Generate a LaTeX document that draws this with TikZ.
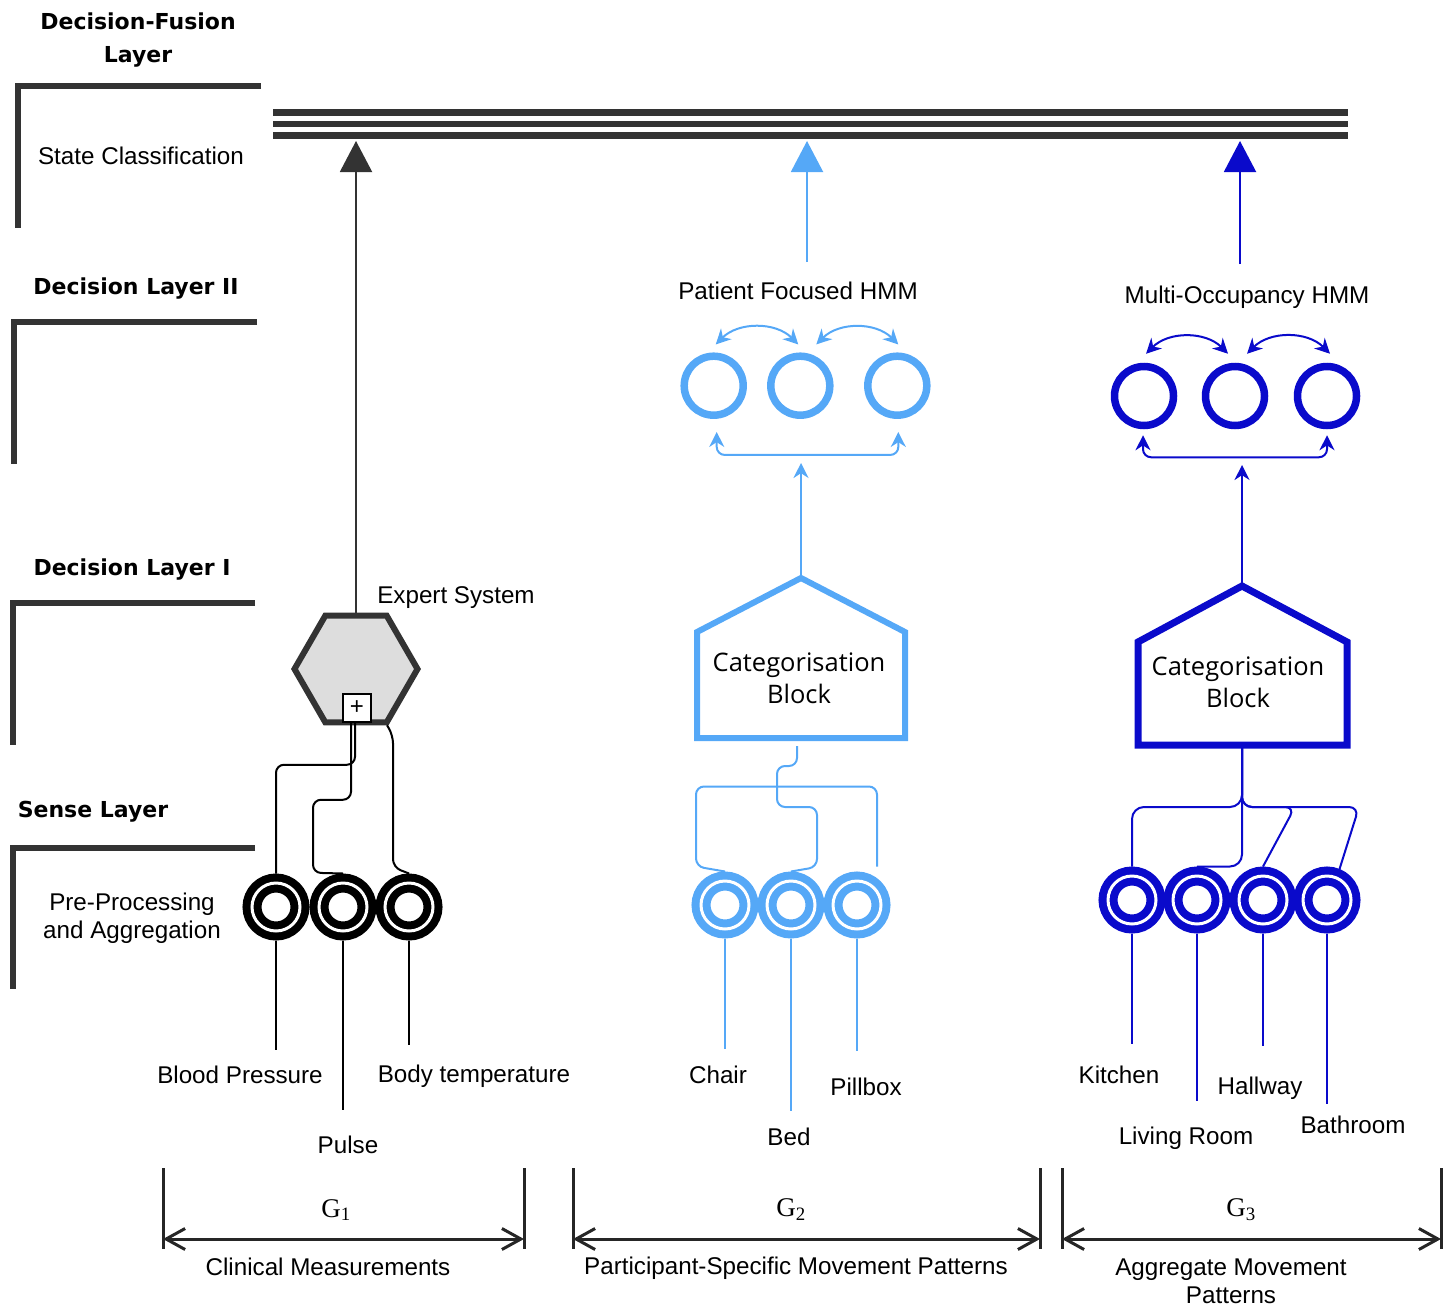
\documentclass[tikz,border=0pt]{standalone}
\usepackage{fontspec}
\setmainfont{Liberation Sans}
\newfontfamily\headfont{DejaVu Sans}
\newfontfamily\blockfont{Open Sans}
\newfontfamily\gfont{Liberation Serif}
\usetikzlibrary{arrows.meta,calc,shapes.geometric}
\definecolor{darkline}{HTML}{333333}
\definecolor{hexfill}{HTML}{DDDDDD}
\definecolor{lightblu}{HTML}{55A8F7}
\definecolor{darkblu}{HTML}{0A0ACB}
\tikzset{>=Stealth,
  lbl/.style={font=\fontsize{24.2}{28}\selectfont, align=center, inner sep=0pt},
  layerhead/.style={font=\headfont\bfseries\fontsize{22}{33}\selectfont, align=center, inner sep=0pt},
  blocktext/.style={font=\blockfont\fontsize{25.5}{32}\selectfont, align=center, inner sep=0pt},
  layerbracket/.style={darkline, line width=6pt},
  fusearr/.style={#1, line width=2pt, -{Triangle[width=32pt,length=31pt]}},
  uparr/.style={#1, line width=2pt, -{Stealth[length=15pt,width=15pt]}},
  hmmarr/.style={#1, line width=2pt, {Stealth[length=15pt,width=15pt]}-{Stealth[length=15pt,width=15pt]}},
  sensor/.style={circle, draw=#1, line width=8pt, double=white, double distance=3pt,
    minimum size=48pt, inner sep=0pt, outer sep=9.5pt},
  hmmstate/.style={circle, draw=#1, line width=7.5pt, minimum size=59pt, inner sep=0pt, outer sep=3.75pt},
  wire/.style={#1, line width=2pt},
  grpbar/.style={black!85, line width=3pt},
  grparr/.style={black!85, line width=3pt, {Straight Barb[length=19pt,width=21pt]}-{Straight Barb[length=19pt,width=21pt]}}
}
\begin{document}
\begin{tikzpicture}[x=1pt,y=-1pt]
\useasboundingbox (0,0) rectangle (1455,1306);

% layers
\node[layerhead] (hfusion) at (138,40) {Decision-Fusion\\Layer};
\node[layerhead] (hdec2) at (136,289) {Decision Layer II};
\node[layerhead] (hdec1) at (132,570) {Decision Layer I};
\node[layerhead] (hsense) at (93,812) {Sense Layer};
\draw[layerbracket] (261,86) -- (18,86) -- (18,228);
\draw[layerbracket] (257,322) -- (14,322) -- (14,464);
\draw[layerbracket] (255,603) -- (13,603) -- (13,745);
\draw[layerbracket] (255,848) -- (13,848) -- (13,989);
\node[lbl] (state) at (141,156) {State Classification};
\node[lbl] (preproc) at (132,918) {Pre-Processing\\and Aggregation};

\foreach \yb in {112.7,124,135.3}
  \draw[darkline, line width=6.5pt] (273,\yb) -- (1348,\yb);
\coordinate (bartip) at (0,141);

% G1
\node[regular polygon, regular polygon sides=6, minimum size=123pt, inner sep=0pt,
  draw=darkline, fill=hexfill, line width=6pt] (hex) at (356,669) {};
\node[draw=black, fill=white, line width=1.5pt, minimum size=28pt, inner sep=0pt,
  font=\fontsize{24}{24}\selectfont] (plus) at (357,708) {+};
\node[lbl] (expert) at (456,598) {Expert System};
\draw[fusearr=darkline] (hex.north) -- (hex.north |- bartip);
\node[sensor=black] (r11) at (276,907) {};
\node[sensor=black] (r12) at (343,907) {};
\node[sensor=black] (r13) at (409,907) {};
\draw[wire=black, rounded corners=8] ($(plus.south)+(-2,0)$) -- ++(0,42) -| (r11.north);
\draw[wire=black, rounded corners=8] ($(plus.south)+(-6,0)$) -- ++(0,77) -- ++(-38,0) -- ++(0,73) -- (r12.north);
\draw[wire=black, rounded corners=8] ($(hex.south)+(31,0)$) -- ++(6,10) -- ++(0,132) -- (r13.north);
\draw[wire=black] (r11.south) -- ++(0,109);
\draw[wire=black] (r12.south) -- ++(0,169);
\draw[wire=black] (r13.south) -- ++(0,104);
\node[lbl] (bp) at (240,1075) {Blood Pressure};
\node[lbl] (pulse) at (348,1145) {Pulse};
\node[lbl] (btemp) at (474,1076) {Body temperature};

% G2
\node[lbl] (lab2hmm) at (798,291) {Patient Focused HMM};
\coordinate (up2) at (807,262);
\draw[fusearr=lightblu] (up2) -- (up2 |- bartip);
\node[hmmstate=lightblu] (h21) at (713.7,385.7) {};
\node[hmmstate=lightblu] (h22) at (800.3,385.7) {};
\node[hmmstate=lightblu] (h23) at (897.3,385.7) {};
\draw[hmmarr=lightblu] ($(h21.north)+(2,-8)$) to[bend left=45] ($(h22.north)+(-2,-8)$);
\draw[hmmarr=lightblu] ($(h22.north)+(16,-8)$) to[bend left=45] ($(h23.north)+(1,-8)$);
\draw[hmmarr=lightblu, rounded corners=8] ($(h21.south)+(3,13)$) -- ++(0,23) -| ($(h23.south)+(1,13)$);
\draw[lightblu, line width=6pt] (697,632) -- (801,578) -- (905,632) -- (905,738) -- (697,738) -- cycle;
\coordinate (apex2) at (801,578);
\coordinate (base2) at (801,738);
\node[blocktext] (cat2) at (799,678) {Categorisation\\Block};
\draw[uparr=lightblu] (apex2) -- ++(0,-115);
\node[sensor=lightblu] (r21) at (725,905) {};
\node[sensor=lightblu] (r22) at (791,905) {};
\node[sensor=lightblu] (r23) at (857,905) {};
\draw[wire=lightblu, rounded corners=8] ($(base2)+(-4,8)$) -- ++(0,20) -- ++(-20,0) -- ++(0,41) -- ++(40,0) -- ++(0,60) -- (r22.north);
\draw[wire=lightblu, rounded corners=8] (r21.north) -- ++(-29,-5) -- ++(0,-80) -- ++(181,0) -- ++(0,80);
\draw[wire=lightblu] (r21.south) -- ++(0,110);
\draw[wire=lightblu] (r22.south) -- ++(0,172);
\draw[wire=lightblu] (r23.south) -- ++(0,112);
\node[lbl] (chair) at (718,1075) {Chair};
\node[lbl] (bed) at (789,1137) {Bed};
\node[lbl] (pillbox) at (866,1087) {Pillbox};

% G3
\node[lbl] (lab3hmm) at (1247,297) {Multi-Occupancy HMM};
\coordinate (up3) at (1240,264);
\draw[fusearr=darkblu] (up3) -- (up3 |- bartip);
\node[hmmstate=darkblu] (h31) at (1144,396) {};
\node[hmmstate=darkblu] (h32) at (1235,396) {};
\node[hmmstate=darkblu] (h33) at (1327,396) {};
\draw[hmmarr=darkblu] ($(h31.north)+(2,-9)$) to[bend left=45] ($(h32.north)+(-7,-9)$);
\draw[hmmarr=darkblu] ($(h32.north)+(12,-9)$) to[bend left=45] ($(h33.north)+(3,-9)$);
\draw[hmmarr=darkblu, rounded corners=8] ($(h31.south)+(-1,6)$) -- ++(0,22) -| ($(h33.south)+(0,6)$);
\draw[darkblu, line width=7pt] (1138,642) -- (1242,586) -- (1347,642) -- (1347,745) -- (1138,745) -- cycle;
\coordinate (apex3) at (1242,586);
\coordinate (base3) at (1242,745);
\node[blocktext] (cat3) at (1238,682) {Categorisation\\Block};
\draw[uparr=darkblu] (apex3) -- ++(0,-121);
\node[sensor=darkblu] (r31) at (1132,900) {};
\node[sensor=darkblu] (r32) at (1197,900) {};
\node[sensor=darkblu] (r33) at (1263,900) {};
\node[sensor=darkblu] (r34) at (1327,900) {};
\draw[wire=darkblu, rounded corners=12] (base3) -- ++(0,62) -| (r31.north);
\draw[wire=darkblu, rounded corners=12] (base3) |- (r32.north);
\draw[wire=darkblu, rounded corners=10] (base3) -- ++(0,62) -- ++(53,0) -- (r33.north);
\draw[wire=darkblu, rounded corners=10] (base3) -- ++(0,62) -- ++(117,0) -- (r34.68);
\draw[wire=darkblu] (r31.south) -- ++(0,110);
\draw[wire=darkblu] (r32.south) -- ++(0,167);
\draw[wire=darkblu] (r33.south) -- ++(0,112);
\draw[wire=darkblu] (r34.south) -- ++(0,170);
\node[lbl] (kitchen) at (1119,1075) {Kitchen};
\node[lbl] (living) at (1186,1138) {Living Room};
\node[lbl] (hallway) at (1260,1088) {Hallway};
\node[lbl] (bathroom) at (1353,1125) {Bathroom};

% groups
\foreach \xl/\xr/\gx/\gn in {163/524/336/1, 573/1040/791/2, 1062/1441/1241/3} {
  \draw[grpbar] (\xl,1168) -- (\xl,1249);
  \draw[grpbar] (\xr,1168) -- (\xr,1249);
  \draw[grparr] (\xl,1239) -- (\xr,1239);
  \node[font=\gfont\fontsize{27}{30}\selectfont, inner sep=0pt] (g\gn) at (\gx,1210) {G\textsubscript{\gn}};
}
\node[lbl] (clin) at (328,1267) {Clinical Measurements};
\node[lbl] (partic) at (796,1268) {Participant-Specific Movement Patterns};
\node[lbl] (aggr) at (1231,1281) {Aggregate Movement\\Patterns};
\end{tikzpicture}
\end{document}
